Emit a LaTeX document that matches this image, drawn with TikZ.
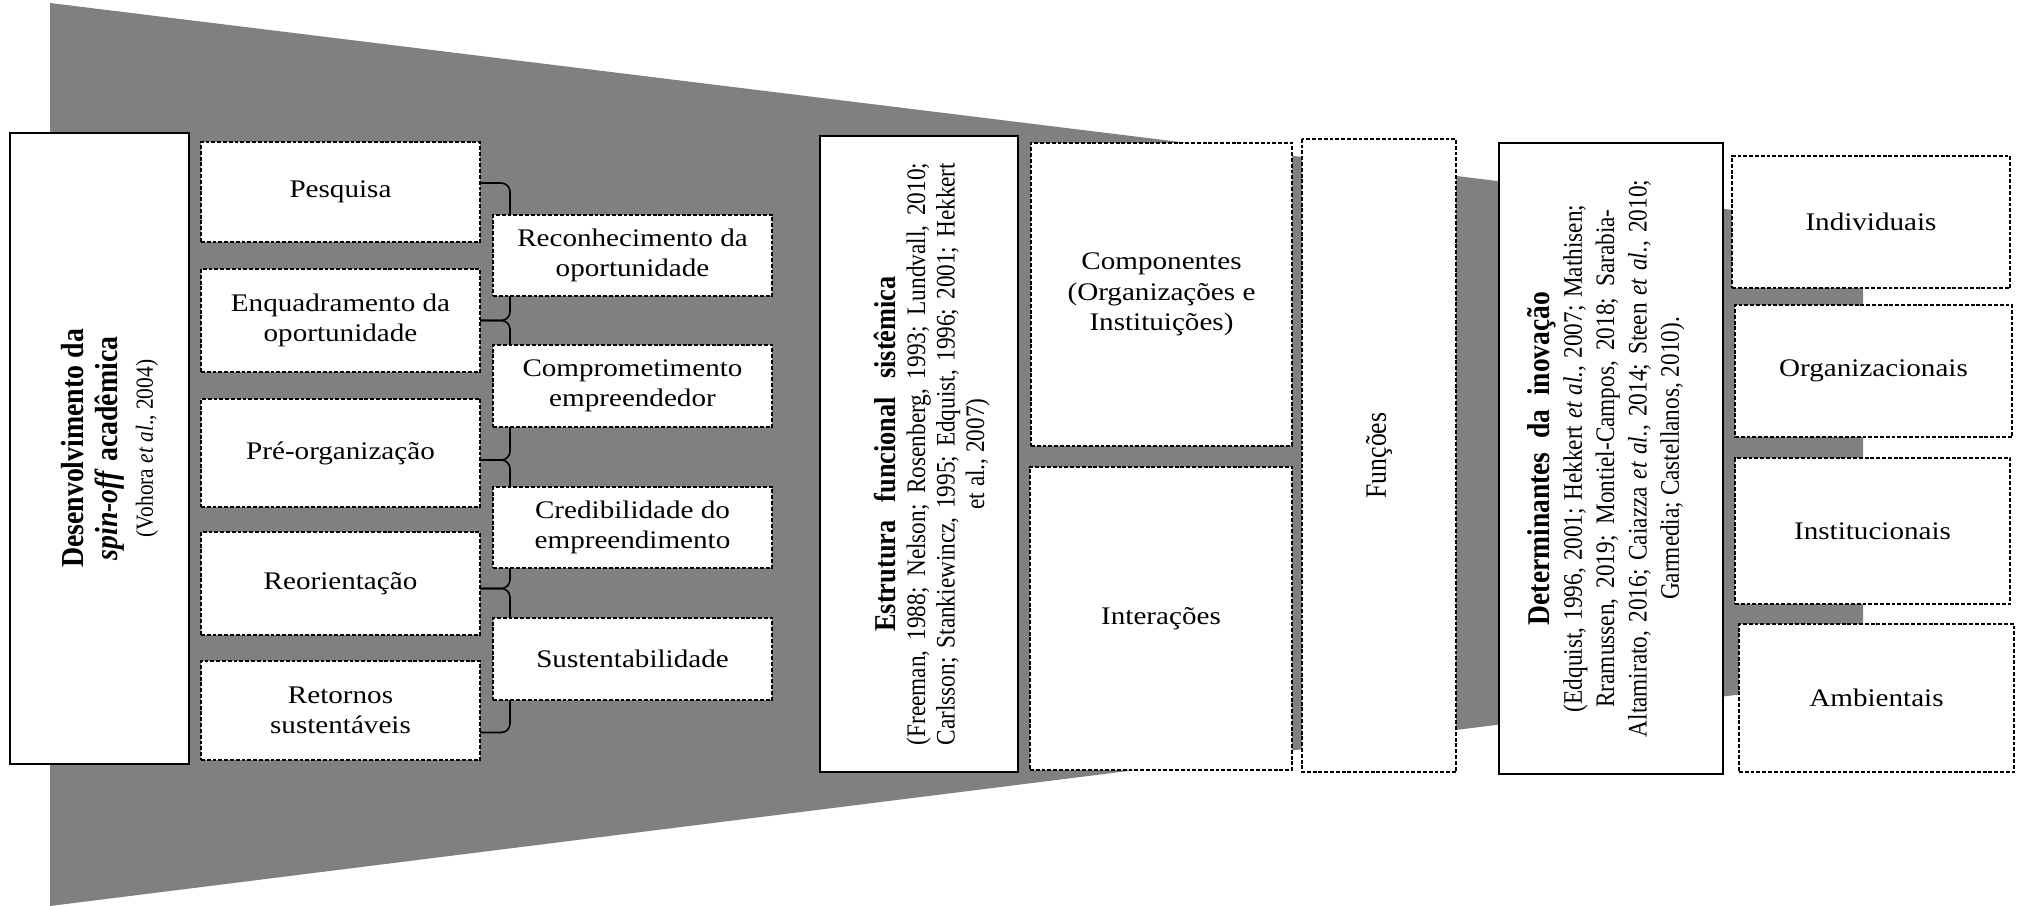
\documentclass[tikz,border=0pt]{standalone}
\usepackage{fontspec}
\setmainfont{Liberation Serif}
\newfontfamily\widerm[FakeStretch=1.15]{Liberation Serif}
\newfontfamily\slimrm[FakeStretch=0.87]{Liberation Serif}
\usetikzlibrary{calc}
\definecolor{funnelgray}{RGB}{128,128,128}
\newcommand{\boxfont}{\widerm\fontsize{7.2}{8.6}\selectfont}
\tikzstyle{every node}=[font=\boxfont]
\tikzstyle{solidbox}=[draw,fill=white,line width=0.5pt,inner sep=0pt,outer sep=0pt,align=center]
\tikzstyle{dashbox}=[draw,fill=white,line width=0.42pt,dash pattern=on 1.1pt off 0.55pt,inner sep=0pt,outer sep=0pt,align=center]
\tikzstyle{sidetext}=[rotate=90,align=center,inner sep=0pt]
\tikzstyle{brace}=[line width=0.45pt,rounded corners=2.5pt]

\begin{document}
\begin{tikzpicture}[x=0.01cm,y=-0.01cm]
  \useasboundingbox (0,0) rectangle (2024,906);
  % funil ao fundo
  \fill[funnelgray] (50,3) -- (1863,226) -- (1863,679) -- (50,906) -- cycle;

  % spin-off academica
  \node[solidbox,minimum width=1.79cm,minimum height=6.31cm] (dev) at (99.5,448.5) {};
  \node[sidetext,font=\slimrm\fontsize{9.1}{9.9}\selectfont] (devtext) at ([xshift=0.1cm]dev.center)
    {\textbf{Desenvolvimento da}\\
     \textbf{\textit{spin-off} acadêmica}\\
     {\fontsize{7}{8}\selectfont (Vohora \textit{et al}., 2004)}};
  \node[dashbox,minimum width=2.79cm,minimum height=1.00cm] (pes) at (340.5,192) {Pesquisa};
  \node[dashbox,minimum width=2.79cm,minimum height=1.03cm] (enq) at (340.5,320.5) {Enquadramento da\\oportunidade};
  \node[dashbox,minimum width=2.79cm,minimum height=1.08cm] (pre) at (340.5,453) {Pré-organização};
  \node[dashbox,minimum width=2.79cm,minimum height=1.03cm] (reo) at (340.5,583.5) {Reorientação};
  \node[dashbox,minimum width=2.79cm,minimum height=0.99cm] (ret) at (340.5,710.5) {Retornos\\sustentáveis};
  \node[dashbox,minimum width=2.79cm,minimum height=0.81cm] (rec) at (632.5,255.5) {Reconhecimento da\\oportunidade};
  \node[dashbox,minimum width=2.79cm,minimum height=0.82cm] (comp) at (632.5,386) {Comprometimento\\empreendedor};
  \node[dashbox,minimum width=2.79cm,minimum height=0.81cm] (cred) at (632.5,527.5) {Credibilidade do\\empreendimento};
  \node[dashbox,minimum width=2.79cm,minimum height=0.82cm] (sust) at (632.5,659) {Sustentabilidade};

  % chaves entre as fases
  \coordinate (bx) at (510,0);
  \draw[brace] ($(pes.east)+(0,-9)$) -| (rec.north -| bx);
  \draw[brace] (rec.south -| bx) |- (enq.east);
  \draw[brace] (comp.north -| bx) |- (enq.east);
  \draw[brace] (comp.south -| bx) |- ($(pre.east)+(0,7)$);
  \draw[brace] (cred.north -| bx) |- ($(pre.east)+(0,7)$);
  \draw[brace] (cred.south -| bx) |- ($(reo.east)+(0,5)$);
  \draw[brace] (sust.north -| bx) |- ($(reo.east)+(0,5)$);
  \draw[brace] (sust.south -| bx) |- ($(ret.east)+(0,22)$);

  % estrutura funcional
  \node[solidbox,minimum width=1.98cm,minimum height=6.36cm] (est) at (919,454) {};
  \node[sidetext,font=\slimrm\fontsize{7.6}{8.4}\selectfont] (esttext) at ([xshift=0.13cm]est.center)
    {\makebox[3.55cm][s]{\fontsize{8.6}{8.4}\selectfont\bfseries Estrutura funcional sistêmica}\\
     \makebox[5.82cm][s]{(Freeman, 1988; Nelson; Rosenberg, 1993; Lundvall, 2010;}\\
     \makebox[5.82cm][s]{Carlsson; Stankiewincz, 1995; Edquist, 1996; 2001; Hekkert}\\
     et al., 2007)};
  \node[dashbox,minimum width=2.61cm,minimum height=3.03cm] (compo) at (1161.5,294.5) {Componentes\\(Organizações e\\Instituições)};
  \node[dashbox,minimum width=2.62cm,minimum height=3.03cm] (inter) at (1161,618.5) {Interações};
  \node[dashbox,rotate=90,minimum width=6.33cm,minimum height=1.54cm,
        font=\slimrm\fontsize{8.4}{9}\selectfont] (fun) at (1379,455.5) {Funções};

  % determinantes
  \node[solidbox,minimum width=2.24cm,minimum height=6.31cm] (det) at (1611,458.5) {};
  \node[sidetext,font=\slimrm\fontsize{7.6}{9.2}\selectfont] (dettext) at ([xshift=-0.05cm]det.center)
    {\makebox[3.33cm][s]{\fontsize{9}{9.2}\selectfont\bfseries Determinantes da inovação}\\
     \makebox[5.07cm][s]{(Edquist, 1996, 2001; Hekkert \textit{et al.}, 2007; Mathisen;}\\
     \makebox[4.98cm][s]{Rramussen, 2019; Montiel-Campos, 2018; Sarabia-}\\
     \makebox[5.57cm][s]{Altamirato, 2016; Caiazza \textit{et al.}, 2014; Steen \textit{et al.}, 2010;}\\
     Garmedia; Castellanos, 2010).};
  \node[dashbox,minimum width=2.78cm,minimum height=1.32cm] (ind) at (1871,222) {Individuais};
  \node[dashbox,minimum width=2.77cm,minimum height=1.32cm] (org) at (1873.5,371) {Organizacionais};
  \node[dashbox,minimum width=2.75cm,minimum height=1.46cm] (ins) at (1872.5,531) {Institucionais};
  \node[dashbox,minimum width=2.75cm,minimum height=1.48cm] (amb) at (1876.5,698) {Ambientais};
\end{tikzpicture}
\end{document}
